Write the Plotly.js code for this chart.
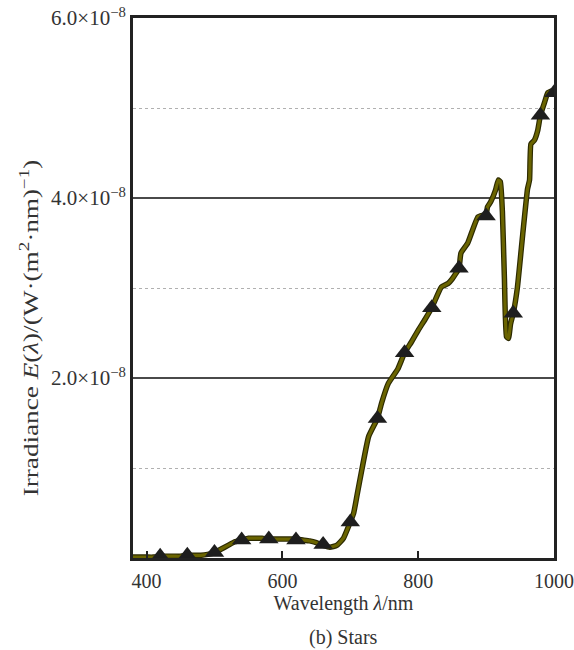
<!DOCTYPE html>
<html>
<head>
<meta charset="utf-8">
<script src="https://cdn.plot.ly/plotly-3.0.1.min.js"></script>
<style>html,body{margin:0;padding:0;background:#fff;}#chart{width:574px;height:650px;}</style>
</head>
<body>
<div id="chart"></div>
<script>
// Continuous spectrum curve (wavelength nm, irradiance W/(m^2·nm))
const curveWavelength = [380,390,400,410,420,430,440,450,460,470,480,490,500,510,520,530,540,550,560,570,580,590,600,610,620,630,640,650,660,670,680,690,700,705,710,717,727,740,746,756,770,780,790,800,810,820,834,844,850,860,863,873,888,900,902,907,914,918,921,924,927,930,933,936,940,946,954,961,964,966,971,976,980,986,991,1000];
const curveIrradiance = [0.01e-8,0.01e-8,0.01e-8,0.01e-8,0.02e-8,0.02e-8,0.02e-8,0.02e-8,0.03e-8,0.03e-8,0.03e-8,0.04e-8,0.06e-8,0.10e-8,0.14e-8,0.18e-8,0.20e-8,0.22e-8,0.22e-8,0.22e-8,0.21e-8,0.21e-8,0.21e-8,0.21e-8,0.21e-8,0.20e-8,0.19e-8,0.17e-8,0.14e-8,0.12e-8,0.14e-8,0.22e-8,0.40e-8,0.50e-8,0.70e-8,0.98e-8,1.35e-8,1.55e-8,1.72e-8,1.94e-8,2.10e-8,2.28e-8,2.40e-8,2.53e-8,2.65e-8,2.78e-8,3.01e-8,3.05e-8,3.10e-8,3.22e-8,3.39e-8,3.50e-8,3.79e-8,3.82e-8,3.90e-8,3.96e-8,4.09e-8,4.20e-8,4.18e-8,3.85e-8,3.10e-8,2.46e-8,2.44e-8,2.60e-8,2.72e-8,3.00e-8,3.60e-8,4.10e-8,4.20e-8,4.60e-8,4.64e-8,4.75e-8,4.92e-8,5.06e-8,5.17e-8,5.20e-8];
// Triangle sample points
const markerWavelength = [420,460,500,540,580,620,660,700,740,780,820,860,900,940,980,1000];
const markerIrradiance = [0.02e-8,0.03e-8,0.06e-8,0.20e-8,0.21e-8,0.20e-8,0.15e-8,0.40e-8,1.55e-8,2.28e-8,2.78e-8,3.22e-8,3.80e-8,2.72e-8,4.92e-8,5.17e-8];
// Axis ticks
const yTickVals = [2e-8,4e-8,6e-8];
const yTickText = ['2.0×10<sup>−8</sup>','4.0×10<sup>−8</sup>','6.0×10<sup>−8</sup>'];
const yMinorVals = [1e-8,3e-8,5e-8];
const xTickVals = [400,600,800,1000];
const xTickText = ['400','600','800','1000'];

const FONT = '"Liberation Serif", "Times New Roman", serif';

const traces = [
  {x: curveWavelength, y: curveIrradiance, mode: 'lines', line: {color: '#2b2900', width: 5.5, shape: 'spline', smoothing: 0.4}, hoverinfo: 'skip', showlegend: false},
  {x: curveWavelength, y: curveIrradiance, mode: 'lines', line: {color: '#6a6400', width: 3.2, shape: 'spline', smoothing: 0.4}, showlegend: false},
  {x: markerWavelength, y: markerIrradiance, mode: 'markers', marker: {symbol: 'triangle-up', size: 17, color: '#1e1e1e', line: {width: 0}}, showlegend: false}
];

const layout = {
  width: 574, height: 650,
  margin: {l: 133, r: 20, t: 18, b: 92},
  paper_bgcolor: '#ffffff', plot_bgcolor: '#ffffff',
  font: {family: FONT, color: '#333333', size: 20},
  showlegend: false,
  xaxis: {
    range: [380, 1000], tickmode: 'array', tickvals: xTickVals, ticktext: xTickText,
    ticks: 'inside', ticklen: 7, tickwidth: 2, tickcolor: '#222',
    showline: true, mirror: true, linewidth: 3, linecolor: '#222',
    showgrid: false, zeroline: false,
    ticklabelstandoff: 3, ticklabeloverflow: 'allow',
    tickfont: {family: FONT, size: 20, color: '#333'},
    title: {text: 'Wavelength <i>λ</i>/nm', font: {family: FONT, size: 20, color: '#333'}, standoff: 4}
  },
  yaxis: {
    range: [0, 6e-8], tickmode: 'array', tickvals: yTickVals, ticktext: yTickText,
    ticks: '', showline: true, mirror: true, linewidth: 3, linecolor: '#222',
    showgrid: true, gridcolor: '#4a4a4a', gridwidth: 2.5, zeroline: false,
    minor: {tickmode: 'array', tickvals: yMinorVals, showgrid: true, gridcolor: '#b0b0b0', gridwidth: 1, griddash: 'dot', ticks: ''},
    tickfont: {family: FONT, size: 21, color: '#333'},
    title: {text: 'Irradiance <i>E</i>(<i>λ</i>)/(W·(m<sup>2</sup>·nm)<sup>−1</sup>)', font: {family: FONT, size: 20, color: '#333'}, standoff: 8}
  },
  annotations: [
    {text: '(b) Stars', xref: 'paper', yref: 'paper', x: 0.5, y: -0.148, xanchor: 'center', yanchor: 'middle', showarrow: false, font: {family: FONT, size: 20, color: '#333'}}
  ]
};

Plotly.newPlot('chart', traces, layout, {displayModeBar: false, staticPlot: true}).then(function(gd){
  // The reference's vertical title is stretched along its length; reproduce that.
  const t = gd.querySelector('text.ytitle');
  if (t) {
    const x = parseFloat(t.getAttribute('x'));
    const y = parseFloat(t.getAttribute('y'));
    t.setAttribute('transform', 'translate(0,40) rotate(-90,' + x + ',' + y + ') translate(' + x + ',' + y + ') scale(1.36,1) translate(' + (-x) + ',' + (-y) + ')');
  }
});
</script>
</body>
</html>
